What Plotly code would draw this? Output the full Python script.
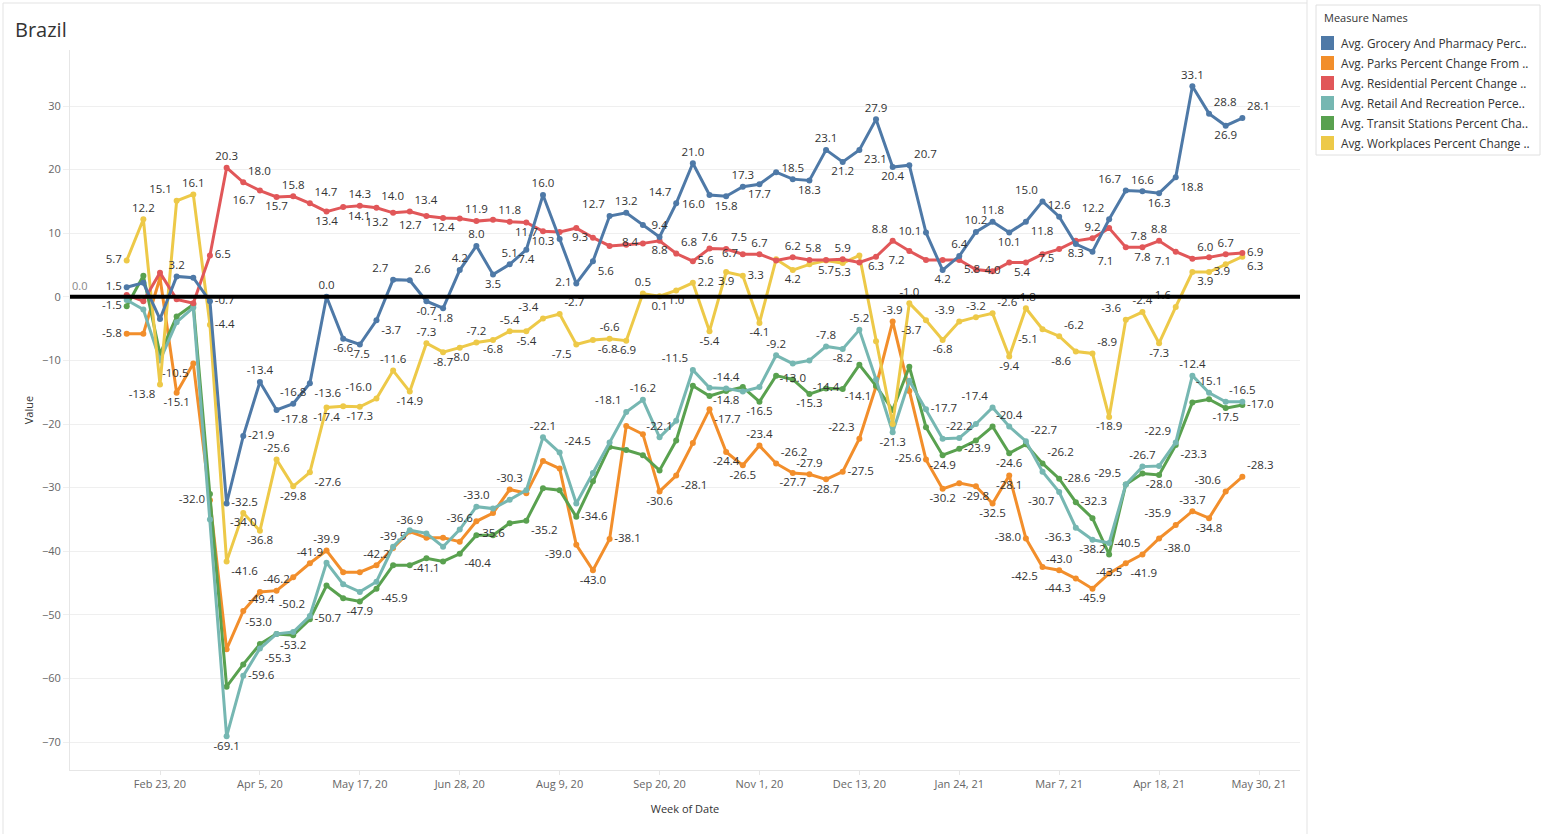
import plotly.graph_objects as go
import pandas as pd

# ---------------- data ----------------
weeks = pd.date_range("2020-02-09", periods=68, freq="7D")

tick_dates = pd.date_range("2020-02-23", periods=12, freq="42D")
tick_labels = ["Feb 23, 20", "Apr 5, 20", "May 17, 20", "Jun 28, 20", "Aug 9, 20", "Sep 20, 20",
               "Nov 1, 20", "Dec 13, 20", "Jan 24, 21", "Mar 7, 21", "Apr 18, 21", "May 30, 21"]
y_ticks = [-70, -60, -50, -40, -30, -20, -10, 0, 10, 20, 30]

grocery = [1.5, 2.2, -3.5, 3.2, 3.0, -0.7, -32.5, -21.9, -13.4, -17.8,
           -16.8, -13.6, 0.0, -6.6, -7.5, -3.7, 2.7, 2.6, -0.7, -1.8,
           4.2, 8.0, 3.5, 5.1, 7.4, 16.0, 9.1, 2.1, 5.6, 12.7,
           13.2, 11.3, 9.4, 14.7, 21.0, 16.0, 15.8, 17.3, 17.7, 19.6,
           18.5, 18.3, 23.1, 21.2, 23.1, 27.9, 20.4, 20.7, 10.1, 4.2,
           6.4, 10.2, 11.8, 10.1, 11.8, 15.0, 12.6, 8.3, 7.1, 12.2,
           16.7, 16.6, 16.3, 18.8, 33.1, 28.8, 26.9, 28.1]
parks = [-5.8, -5.8, 3.0, -15.1, -10.5, -32.0, -55.4, -49.4, -46.4, -46.2,
         -44.1, -41.9, -39.9, -43.3, -43.3, -42.2, -39.5, -36.9, -37.9, -37.9,
         -38.5, -35.3, -34.0, -30.3, -30.9, -25.8, -27.0, -39.0, -43.0, -38.1,
         -20.3, -21.6, -30.6, -28.1, -23.0, -17.7, -24.4, -26.5, -23.4, -26.2,
         -27.7, -27.9, -28.7, -27.5, -22.3, -14.1, -3.9, -14.8, -25.6, -30.2,
         -29.3, -29.8, -32.5, -28.1, -38.0, -42.5, -43.0, -44.3, -45.9, -43.5,
         -41.9, -40.5, -38.0, -35.9, -33.7, -34.8, -30.6, -28.3]
residential = [0.3, -0.7, 3.8, -0.4, -1.0, 6.5, 20.3, 18.0, 16.7, 15.7,
               15.8, 14.7, 13.4, 14.1, 14.3, 14.0, 13.2, 13.4, 12.7, 12.4,
               12.3, 11.9, 12.1, 11.8, 11.7, 10.3, 10.2, 10.8, 9.3, 8.0,
               8.2, 8.4, 8.8, 6.8, 5.6, 7.6, 7.5, 6.7, 6.7, 5.7,
               6.2, 5.8, 5.8, 5.9, 5.4, 6.3, 8.8, 7.2, 5.8, 5.8,
               5.8, 4.3, 4.0, 5.4, 5.4, 6.7, 7.5, 8.8, 9.2, 10.8,
               7.8, 7.8, 8.8, 7.1, 6.0, 6.2, 6.7, 6.9]
retail = [-0.5, -2.0, -10.0, -4.0, -1.7, -35.0, -69.1, -59.6, -55.3, -53.0,
          -52.7, -50.2, -41.8, -45.2, -46.4, -44.8, -39.3, -36.7, -37.2, -39.3,
          -36.6, -33.0, -33.3, -31.9, -30.4, -22.1, -24.5, -32.5, -27.7, -22.9,
          -18.1, -16.2, -22.1, -19.5, -11.5, -14.3, -14.4, -14.9, -14.2, -9.2,
          -10.5, -10.0, -7.8, -8.2, -5.2, -13.0, -21.3, -13.2, -17.7, -22.3,
          -22.2, -20.0, -17.4, -20.4, -22.7, -27.5, -30.7, -36.3, -38.2, -38.7,
          -29.5, -26.7, -26.6, -22.9, -12.4, -15.1, -16.5, -16.5]
transit = [-1.5, 3.3, -9.0, -3.1, -1.2, -31.0, -61.3, -57.8, -54.6, -53.0,
           -53.2, -50.7, -45.4, -47.4, -47.9, -45.9, -42.2, -42.2, -41.1, -41.6,
           -40.4, -37.5, -37.5, -35.6, -35.2, -30.1, -30.4, -34.6, -29.0, -23.6,
           -24.1, -24.9, -27.3, -22.6, -14.0, -15.6, -14.8, -14.2, -16.5, -12.4,
           -13.0, -15.3, -14.4, -14.5, -10.7, -14.0, -17.8, -11.0, -20.5, -24.9,
           -23.9, -22.6, -20.4, -24.6, -23.2, -26.2, -28.6, -32.3, -34.8, -40.5,
           -29.5, -27.8, -28.0, -23.3, -16.6, -16.1, -17.5, -17.0]
workplaces = [5.7, 12.2, -13.8, 15.1, 16.1, -4.4, -41.6, -34.0, -36.8, -25.6,
              -29.8, -27.6, -17.4, -17.2, -17.3, -16.0, -11.6, -14.9, -7.3, -8.7,
              -8.0, -7.2, -6.8, -5.4, -5.4, -3.4, -2.7, -7.5, -6.8, -6.6,
              -6.9, 0.5, 0.1, 1.0, 2.2, -5.4, 3.9, 3.3, -4.1, 5.9,
              4.2, 5.1, 5.7, 5.3, 6.5, -7.0, -20.0, -1.0, -3.7, -6.8,
              -3.9, -3.2, -2.6, -9.4, -1.8, -5.1, -6.2, -8.6, -8.9, -18.9,
              -3.6, -2.4, -7.3, -1.6, 3.9, 3.9, 5.1, 6.3]

reference_value = 0.0

series_names = ["Avg. Grocery And Pharmacy Perc..", "Avg. Parks Percent Change From ..",
                "Avg. Residential Percent Change ..", "Avg. Retail And Recreation Perce..",
                "Avg. Transit Stations Percent Cha..", "Avg. Workplaces Percent Change .."]

# ---------------- label placement (style) ----------------
blue_lbl = {0: 'l', 3: 't', 5: 'r', 6: 'r', 7: 'r', 8: 't', 9: 'br', 10: 't', 11: 'br', 12: 't',
            13: 'b', 14: 'b', 15: 'br', 16: 'tl', 17: 'tr', 18: 'b', 19: 'b', 20: 't', 21: 't', 22: 'b',
            23: 't', 24: 'b', 25: 't', 27: 'l', 28: 'br', 29: 'tl', 30: 't', 32: 't', 33: 'tl', 34: 't',
            35: 'bl', 36: 'b', 37: 't', 38: 'b', 40: 't', 41: 'b', 42: 't', 43: 'b', 44: 'br', 45: 't',
            46: 'b', 47: 'tr', 48: 'l', 49: 'b', 50: 't', 51: 't', 52: 't', 53: 'b', 54: 'br', 55: 'tl',
            56: 't', 57: 'b', 58: 'br', 59: 'tl', 60: 'tl', 61: 't', 62: 'b', 63: 'br', 64: 't', 65: 'tr',
            66: 'b', 67: 'tr'}
orange_lbl = {0: 'l', 3: 'b', 4: 'bl', 5: 'l', 7: 'tr', 9: 't', 11: 't', 12: 't', 15: 't', 16: 't',
              17: 't', 23: 't', 27: 'bl', 28: 'b', 29: 'r', 32: 'b', 33: 'br', 35: 'br', 36: 'b',
              37: 'b', 38: 't', 39: 'tr', 40: 'b', 41: 't', 42: 'b', 43: 'r', 44: 'tl', 45: 'bl',
              46: 't', 48: 'l', 49: 'b', 51: 'b', 52: 'b', 53: 'b', 54: 'l', 55: 'bl', 56: 't',
              57: 'bl', 58: 'b', 59: 'c', 60: 'br', 62: 'br', 63: 'tl', 64: 't', 65: 'b', 66: 'tl',
              67: 'tr'}
red_lbl = {5: 'r', 6: 't', 7: 'tr', 8: 'bl', 9: 'b', 10: 't', 11: 'tr', 12: 'b', 13: 'br', 14: 't',
           15: 'tr', 16: 'bl', 17: 'tr', 18: 'bl', 19: 'b', 21: 't', 23: 't', 24: 'b', 25: 'b', 28: 'l',
           31: 'l', 32: 'b', 33: 'tr', 34: 'r', 35: 't', 36: 'tr', 37: 'l', 38: 't', 40: 't', 42: 'tl',
           43: 't', 45: 'b', 46: 'tl', 47: 'bl', 50: 'br', 52: 'c', 53: 'br', 56: 'bl', 58: 't',
           60: 'tr', 61: 'b', 62: 't', 63: 'bl', 64: 'tr', 66: 't', 67: 'r'}
teal_lbl = {6: 'b', 7: 'r', 8: 'br', 9: 'tl', 11: 'tl', 20: 't', 21: 't', 25: 't', 26: 'tr', 30: 'tl',
            31: 't', 32: 't', 34: 'tl', 36: 't', 39: 't', 42: 't', 43: 'b', 44: 't', 46: 'b', 48: 'r',
            50: 't', 52: 'tl', 53: 't', 54: 'tr', 56: 'bl', 57: 'bl', 58: 'b', 61: 't', 63: 'tl',
            64: 't', 65: 't', 67: 't'}
green_lbl = {0: 'l', 10: 'b', 11: 'r', 14: 'b', 15: 'br', 18: 'b', 20: 'br', 23: 'bl', 24: 'br',
             27: 'r', 36: 'b', 38: 'b', 40: 'c', 41: 'b', 42: 'c', 49: 'b', 50: 'r', 53: 'b',
             55: 'tr', 56: 'r', 57: 'r', 59: 'tr', 60: 'tl', 62: 'b', 63: 'br', 66: 'b', 67: 'r'}
yellow_lbl = {0: 'l', 1: 't', 2: 'bl', 3: 'tl', 4: 't', 5: 'r', 6: 'br', 7: 'b', 8: 'b', 9: 't',
              10: 'b', 11: 'br', 12: 'b', 14: 'b', 15: 'tl', 16: 't', 17: 'b', 18: 't', 19: 'b',
              20: 'b', 21: 't', 22: 'b', 23: 't', 24: 'b', 25: 'tl', 26: 'tr', 27: 'bl', 28: 'br',
              29: 't', 30: 'b', 31: 't', 32: 'b', 33: 'b', 34: 'r', 35: 'b', 36: 'b', 37: 'r',
              38: 'b', 40: 'b', 42: 'b', 43: 'b', 47: 't', 48: 'bl', 49: 'b', 50: 'tl', 51: 't',
              52: 'tr', 53: 'b', 54: 't', 55: 'bl', 56: 'tr', 57: 'bl', 58: 'tr', 59: 'b', 60: 'tl',
              61: 't', 62: 'b', 63: 'tl', 64: 'br', 65: 'r', 67: 'br'}

POS = {'t': 'top center', 'b': 'bottom center', 'l': 'middle left', 'r': 'middle right',
       'tl': 'top left', 'tr': 'top right', 'bl': 'bottom left', 'br': 'bottom right',
       'c': 'middle center'}

colors = ["#4e79a7", "#f28e2b", "#e15759", "#76b7b2", "#59a14f", "#edc948"]
series = [grocery, parks, residential, retail, transit, workplaces]
labels = [blue_lbl, orange_lbl, red_lbl, teal_lbl, green_lbl, yellow_lbl]

FONT = "Open Sans"

fig = go.Figure()
draw_order = [1, 4, 3, 5, 2, 0]
for k in draw_order:
    vals = series[k]
    lab = labels[k]
    text = [f"{v:.1f}" if i in lab else "" for i, v in enumerate(vals)]
    tpos = [POS[lab[i]] if i in lab else "top center" for i in range(len(vals))]
    fig.add_trace(go.Scatter(
        x=weeks, y=vals, mode="lines+markers+text", name=series_names[k],
        line=dict(color=colors[k], width=3),
        marker=dict(color=colors[k], size=6),
        text=text, textposition=tpos,
        textfont=dict(family=FONT, size=11.5, color="#333333"),
        showlegend=False, cliponaxis=False,
    ))

# axis geometry
L, R, T, B = 70, 1300, 50, 770
W, H = 1542, 834
px_per_day = (1259 - 160) / 462.0
anchor = pd.Timestamp("2020-02-23")
x_start = anchor - pd.Timedelta(days=(160 - L) / px_per_day)
x_end = anchor + pd.Timedelta(days=(R - 160) / px_per_day)
y_per_px = 6.36
y_top = (296.8 - T) / y_per_px
y_bot = (296.8 - B) / y_per_px


def xp(px):
    return (px - L) / (R - L)


def yp(py):
    return (B - py) / (B - T)


fig.update_layout(
    width=W, height=H,
    margin=dict(l=L, r=W - R, t=T, b=H - B),
    paper_bgcolor="white", plot_bgcolor="white",
    font=dict(family=FONT, color="#333333"),
    xaxis=dict(type="date", range=[x_start, x_end], tickvals=tick_dates, ticktext=tick_labels,
               showgrid=False, zeroline=False, showline=True, linecolor="#e6e6e6",
               ticks="outside", ticklen=4, tickcolor="#e6e6e6",
               tickfont=dict(family=FONT, size=11, color="#666666"),
               title=dict(text="Week of Date", font=dict(family=FONT, size=11, color="#333333"),
                          standoff=15)),
    yaxis=dict(range=[y_bot, y_top], tickvals=y_ticks, showgrid=True, gridcolor="#efefef",
               zeroline=False, showline=True, linecolor="#e6e6e6",
               ticks="outside", ticklen=6, tickcolor="#efefef",
               tickfont=dict(family=FONT, size=11, color="#666666"),
               title=dict(text="Value", font=dict(family=FONT, size=11, color="#333333"),
                          standoff=6)),
)

shapes = []
# reference line at zero
shapes.append(dict(type="line", xref="paper", yref="y", x0=0, x1=1, y0=reference_value,
                   y1=reference_value, line=dict(color="black", width=4), layer="above"))
# frame lines
shapes.append(dict(type="line", xref="paper", yref="paper", x0=xp(1307), x1=xp(1307),
                   y0=yp(0), y1=yp(834), line=dict(color="#e3e3e3", width=1)))
shapes.append(dict(type="line", xref="paper", yref="paper", x0=xp(3), x1=xp(1307),
                   y0=yp(3), y1=yp(3), line=dict(color="#e3e3e3", width=1)))
shapes.append(dict(type="line", xref="paper", yref="paper", x0=xp(3), x1=xp(3),
                   y0=yp(3), y1=yp(834), line=dict(color="#e3e3e3", width=1)))
# legend box
shapes.append(dict(type="rect", xref="paper", yref="paper", x0=xp(1316), x1=xp(1540),
                   y0=yp(155), y1=yp(5), line=dict(color="#e0e0e0", width=1),
                   fillcolor="rgba(0,0,0,0)"))
annotations = []
for j, (nm, c) in enumerate(zip(series_names, colors)):
    cy = 43 + 20 * j
    shapes.append(dict(type="rect", xref="paper", yref="paper", x0=xp(1321), x1=xp(1334),
                       y0=yp(cy + 7), y1=yp(cy - 7), line=dict(width=0), fillcolor=c))
    annotations.append(dict(xref="paper", yref="paper", x=xp(1339), y=yp(cy), text=nm,
                            showarrow=False, xanchor="left", yanchor="middle",
                            font=dict(family=FONT, size=11.8, color="#333333")))
annotations.append(dict(xref="paper", yref="paper", x=xp(1322), y=yp(18), text="Measure Names",
                        showarrow=False, xanchor="left", yanchor="middle",
                        font=dict(family=FONT, size=11, color="#333333")))
annotations.append(dict(xref="paper", yref="paper", x=xp(13), y=yp(29), text="Brazil",
                        showarrow=False, xanchor="left", yanchor="middle",
                        font=dict(family=FONT, size=20, color="#333333")))
annotations.append(dict(xref="paper", yref="y", x=0, y=reference_value, yshift=11, text="0.0",
                        showarrow=False, xanchor="left", yanchor="middle",
                        font=dict(family=FONT, size=11, color="#888888")))

fig.update_layout(shapes=shapes, annotations=annotations)
fig.write_html("out.html", config={"displayModeBar": False},
               post_script="document.body.style.margin='0';document.body.style.overflow='hidden';")
